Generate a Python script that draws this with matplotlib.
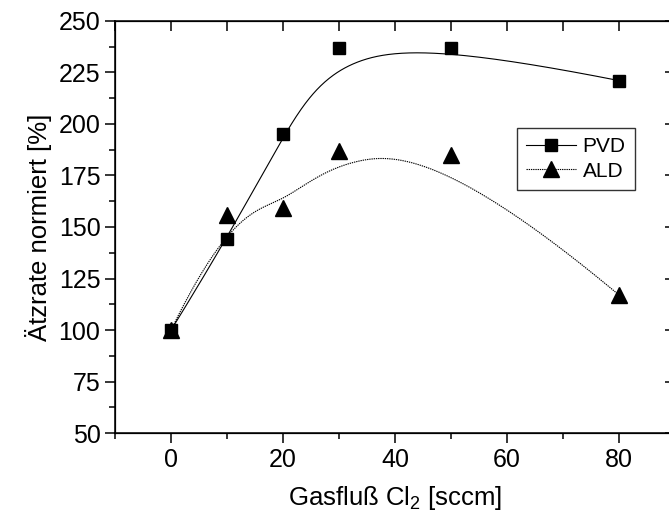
import numpy as np
import matplotlib
matplotlib.use("Agg")
import matplotlib.pyplot as plt

plt.rcParams['font.family'] = ['Liberation Sans', 'DejaVu Sans']
plt.rcParams['mathtext.default'] = 'regular'

# Daten
gasfluss = [0, 10, 20, 30, 50, 80]
pvd = [100, 144, 195, 237, 237, 221]
ald = [100, 156, 159, 187, 185, 117]


def bspline(px, py, n=300):
    # kubischer B-Spline (geklemmt), Datenpunkte als Kontrollpunkte
    p = np.column_stack([px, py]).astype(float)
    k = 3
    m = len(p)
    inner = np.linspace(0, 1, m - k + 1)[1:-1]
    t = np.concatenate([np.zeros(k + 1), inner, np.ones(k + 1)])
    u = np.linspace(0, 1 - 1e-9, n)
    out = []
    for uu in u:
        # Basisfunktionen nach Cox-de Boor
        N = np.array([1.0 if t[i] <= uu < t[i + 1] else 0.0 for i in range(len(t) - 1)])
        for d in range(1, k + 1):
            Nn = np.zeros(len(t) - 1 - d)
            for i in range(len(Nn)):
                a = 0.0 if t[i + d] == t[i] else (uu - t[i]) / (t[i + d] - t[i]) * N[i]
                b = 0.0 if t[i + d + 1] == t[i + 1] else (t[i + d + 1] - uu) / (t[i + d + 1] - t[i + 1]) * N[i + 1]
                Nn[i] = a + b
            N = Nn
        out.append(N @ p)
    out.append(p[-1])
    out = np.array(out)
    return out[:, 0], out[:, 1]


fig = plt.figure(figsize=(6.69, 5.2), dpi=100)
ax = fig.add_axes([0.172, 0.167, 0.837, 0.793])

dotted = (0, (1.2, 0.8))

xs, ys = bspline(gasfluss, pvd)
ax.plot(xs, ys, color='black', lw=0.8)
xs, ys = bspline(gasfluss, ald)
ax.plot(xs, ys, color='black', lw=0.8, ls=dotted)

ax.plot(gasfluss, pvd, 's', color='black', ms=9)
ax.plot(gasfluss, ald, '^', color='black', ms=11.5)

# Legende
l1, = ax.plot([], [], '-', marker='s', color='black', ms=9, lw=0.8, label='PVD')
l2, = ax.plot([], [], marker='^', color='black', ms=11.5, lw=0.8, ls=dotted, label='ALD')
leg = ax.legend([l1, l2], ['PVD', 'ALD'], loc='upper left', bbox_to_anchor=(0.718, 0.74),
                fontsize=15, frameon=True, fancybox=False, edgecolor='black',
                handlelength=2.4, handletextpad=0.3, borderpad=0.45, labelspacing=0.25,
                borderaxespad=0)
leg.get_frame().set_linewidth(1.0)

ax.set_xlim(-10, 90)
ax.set_ylim(50, 250)
ax.set_xticks([0, 20, 40, 60, 80])
ax.set_xticks(np.arange(-10, 91, 10), minor=True)
ax.set_yticks(np.arange(50, 251, 25))
ax.set_yticks(np.arange(50, 251, 12.5), minor=True)
ax.tick_params(which='major', direction='out', length=7, width=1.1, labelsize=18)
ax.tick_params(which='minor', direction='out', length=4, width=1.1)
for s in ax.spines.values():
    s.set_linewidth(1.1)

# obere und rechte Achse mit Ticks nach innen
top = ax.twiny()
top.set_xlim(ax.get_xlim())
top.set_xticks(np.arange(-10, 91, 10))
top.tick_params(direction='in', length=7, width=1.1, labeltop=False)
right = ax.twinx()
right.set_ylim(ax.get_ylim())
right.set_yticks(np.arange(50, 251, 25))
right.tick_params(direction='in', length=7, width=1.1, labelright=False)

ax.set_xlabel('Gasfluß Cl$_2$ [sccm]', fontsize=18.5, labelpad=9)
ax.set_ylabel('Ätzrate normiert [%]', fontsize=18.5, labelpad=5)

fig.savefig('out.png', dpi=100)
